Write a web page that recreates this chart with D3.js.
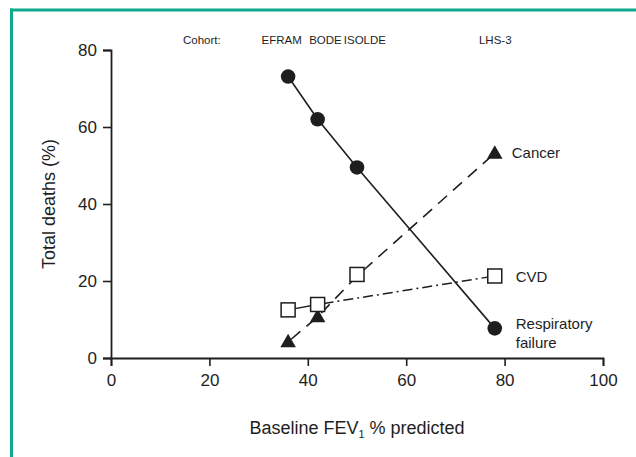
<!DOCTYPE html>
<html>
<head>
<meta charset="utf-8">
<script src="https://cdn.jsdelivr.net/npm/d3@7"></script>
<style>
  html, body { margin: 0; padding: 0; background: #fff; }
  svg { display: block; font-family: "Liberation Sans", Arial, Helvetica, sans-serif; }
</style>
</head>
<body>
<svg id="chart" width="636" height="457"></svg>
<script>
// ---- data ----
const cohorts = ["EFRAM", "BODE", "ISOLDE", "LHS-3"];
const fev1 = [36, 42, 50, 78];                       // baseline FEV1 % predicted
const cohortLabelX = [34.7, 43.6, 51.6, 78.1];       // label anchor in data units
const respiratory = [73.1, 62.0, 49.5, 7.7];
const cancer = [4.2, 10.7, 21.3, 53.2];
const cvd = [12.5, 13.9, 21.7, 21.3];
const cvdLineCohorts = ["EFRAM", "BODE", "LHS-3"];  // cohorts joined by the CVD line
const xTicks = [0, 20, 40, 60, 80, 100];
const yTicks = [0, 20, 40, 60, 80];

const svg = d3.select("#chart");
const ink = "#1e1e1e";

// frame (teal border, top and left visible)
svg.append("line").attr("x1", 10).attr("x2", 636).attr("y1", 10).attr("y2", 10)
  .attr("stroke", "#0ea98e").attr("stroke-width", 3);
svg.append("line").attr("x1", 11.5).attr("x2", 11.5).attr("y1", 8.5).attr("y2", 457)
  .attr("stroke", "#0ea98e").attr("stroke-width", 3);

const x = d3.scaleLinear().domain([0, 100]).range([111, 603]);
const y = d3.scaleLinear().domain([0, 80]).range([358, 50]);

// axes
const xAxis = d3.axisBottom(x).tickValues(xTicks).tickSize(8).tickSizeOuter(8).tickPadding(8);
const yAxis = d3.axisLeft(y).tickValues(yTicks).tickSize(8).tickSizeOuter(8).tickPadding(6);

const gx = svg.append("g").attr("transform", `translate(0,${y(0)})`).call(xAxis);
const gy = svg.append("g").attr("transform", `translate(${x(0)},0)`).call(yAxis);
[gx, gy].forEach(g => {
  g.select(".domain").attr("stroke", ink).attr("stroke-width", 1.8);
  g.selectAll(".tick line").attr("stroke", ink).attr("stroke-width", 1.6);
  g.selectAll(".tick text").attr("fill", ink).attr("font-size", 17)
    .attr("font-family", "Liberation Sans, Arial, sans-serif");
});

// axis titles
const xt = svg.append("text").attr("x", 357).attr("y", 434).attr("text-anchor", "middle")
  .attr("font-size", 18).attr("fill", ink);
xt.append("tspan").text("Baseline FEV");
xt.append("tspan").attr("font-size", 11).attr("dy", 4).text("1");
xt.append("tspan").attr("dy", -4).text(" % predicted");

svg.append("text").attr("transform", `translate(55,${y(40)}) rotate(-90)`)
  .attr("text-anchor", "middle").attr("font-size", 18).attr("fill", ink)
  .text("Total deaths (%)");

// cohort header
svg.append("text").attr("x", 183).attr("y", 44).attr("font-size", 11.5).attr("fill", ink)
  .text("Cohort:");
svg.selectAll(".cohort").data(cohorts).join("text")
  .attr("class", "cohort")
  .attr("x", (d, i) => x(cohortLabelX[i])).attr("y", 44)
  .attr("text-anchor", "middle").attr("font-size", 11.5).attr("fill", ink)
  .text(d => d);

// series
const pts = vals => vals.map((v, i) => [fev1[i], v, cohorts[i]]);
const line = d3.line().x(d => x(d[0])).y(d => y(d[1]));

const respPts = pts(respiratory);
const cancerPts = pts(cancer);
const cvdPts = pts(cvd);
const cvdLinePts = cvdPts.filter(d => cvdLineCohorts.includes(d[2]));

svg.append("path").attr("d", line(respPts)).attr("fill", "none")
  .attr("stroke", ink).attr("stroke-width", 1.6);
svg.append("path").attr("d", line(cancerPts)).attr("fill", "none")
  .attr("stroke", ink).attr("stroke-width", 1.6).attr("stroke-dasharray", "12,8")
  .attr("stroke-dashoffset", -4);
svg.append("path").attr("d", line(cvdLinePts.slice(0, 2))).attr("fill", "none")
  .attr("stroke", ink).attr("stroke-width", 1.5);
svg.append("path").attr("d", line(cvdLinePts.slice(1))).attr("fill", "none")
  .attr("stroke", ink).attr("stroke-width", 1.5).attr("stroke-dasharray", "10,4,2,4")
  .attr("stroke-dashoffset", -6);

// markers
svg.selectAll(".tri").data(cancerPts).join("path").attr("class", "tri")
  .attr("transform", d => `translate(${x(d[0])},${y(d[1]) + 1})`)
  .attr("d", d3.symbol().type(d3.symbolTriangle).size(105)())
  .attr("fill", ink);
svg.selectAll(".sq").data(cvdPts).join("rect").attr("class", "sq")
  .attr("x", d => x(d[0]) - 7).attr("y", d => y(d[1]) - 7)
  .attr("width", 14).attr("height", 14)
  .attr("fill", "#fff").attr("stroke", ink).attr("stroke-width", 1.5);
svg.selectAll(".dot").data(respPts).join("circle").attr("class", "dot")
  .attr("cx", d => x(d[0])).attr("cy", d => y(d[1])).attr("r", 7.3)
  .attr("fill", ink);

// series labels
const labelX = x(fev1[3]) + 21;
svg.append("text").attr("x", labelX - 4).attr("y", y(cancer[3]) + 5)
  .attr("font-size", 15).attr("fill", ink).text("Cancer");
svg.append("text").attr("x", labelX).attr("y", y(cvd[3]) + 6)
  .attr("font-size", 15).attr("fill", ink).text("CVD");
svg.append("text").attr("x", labelX).attr("y", y(respiratory[3]) + 1)
  .attr("font-size", 15).attr("fill", ink).text("Respiratory");
svg.append("text").attr("x", labelX).attr("y", y(respiratory[3]) + 20)
  .attr("font-size", 15).attr("fill", ink).text("failure");
</script>
</body>
</html>
